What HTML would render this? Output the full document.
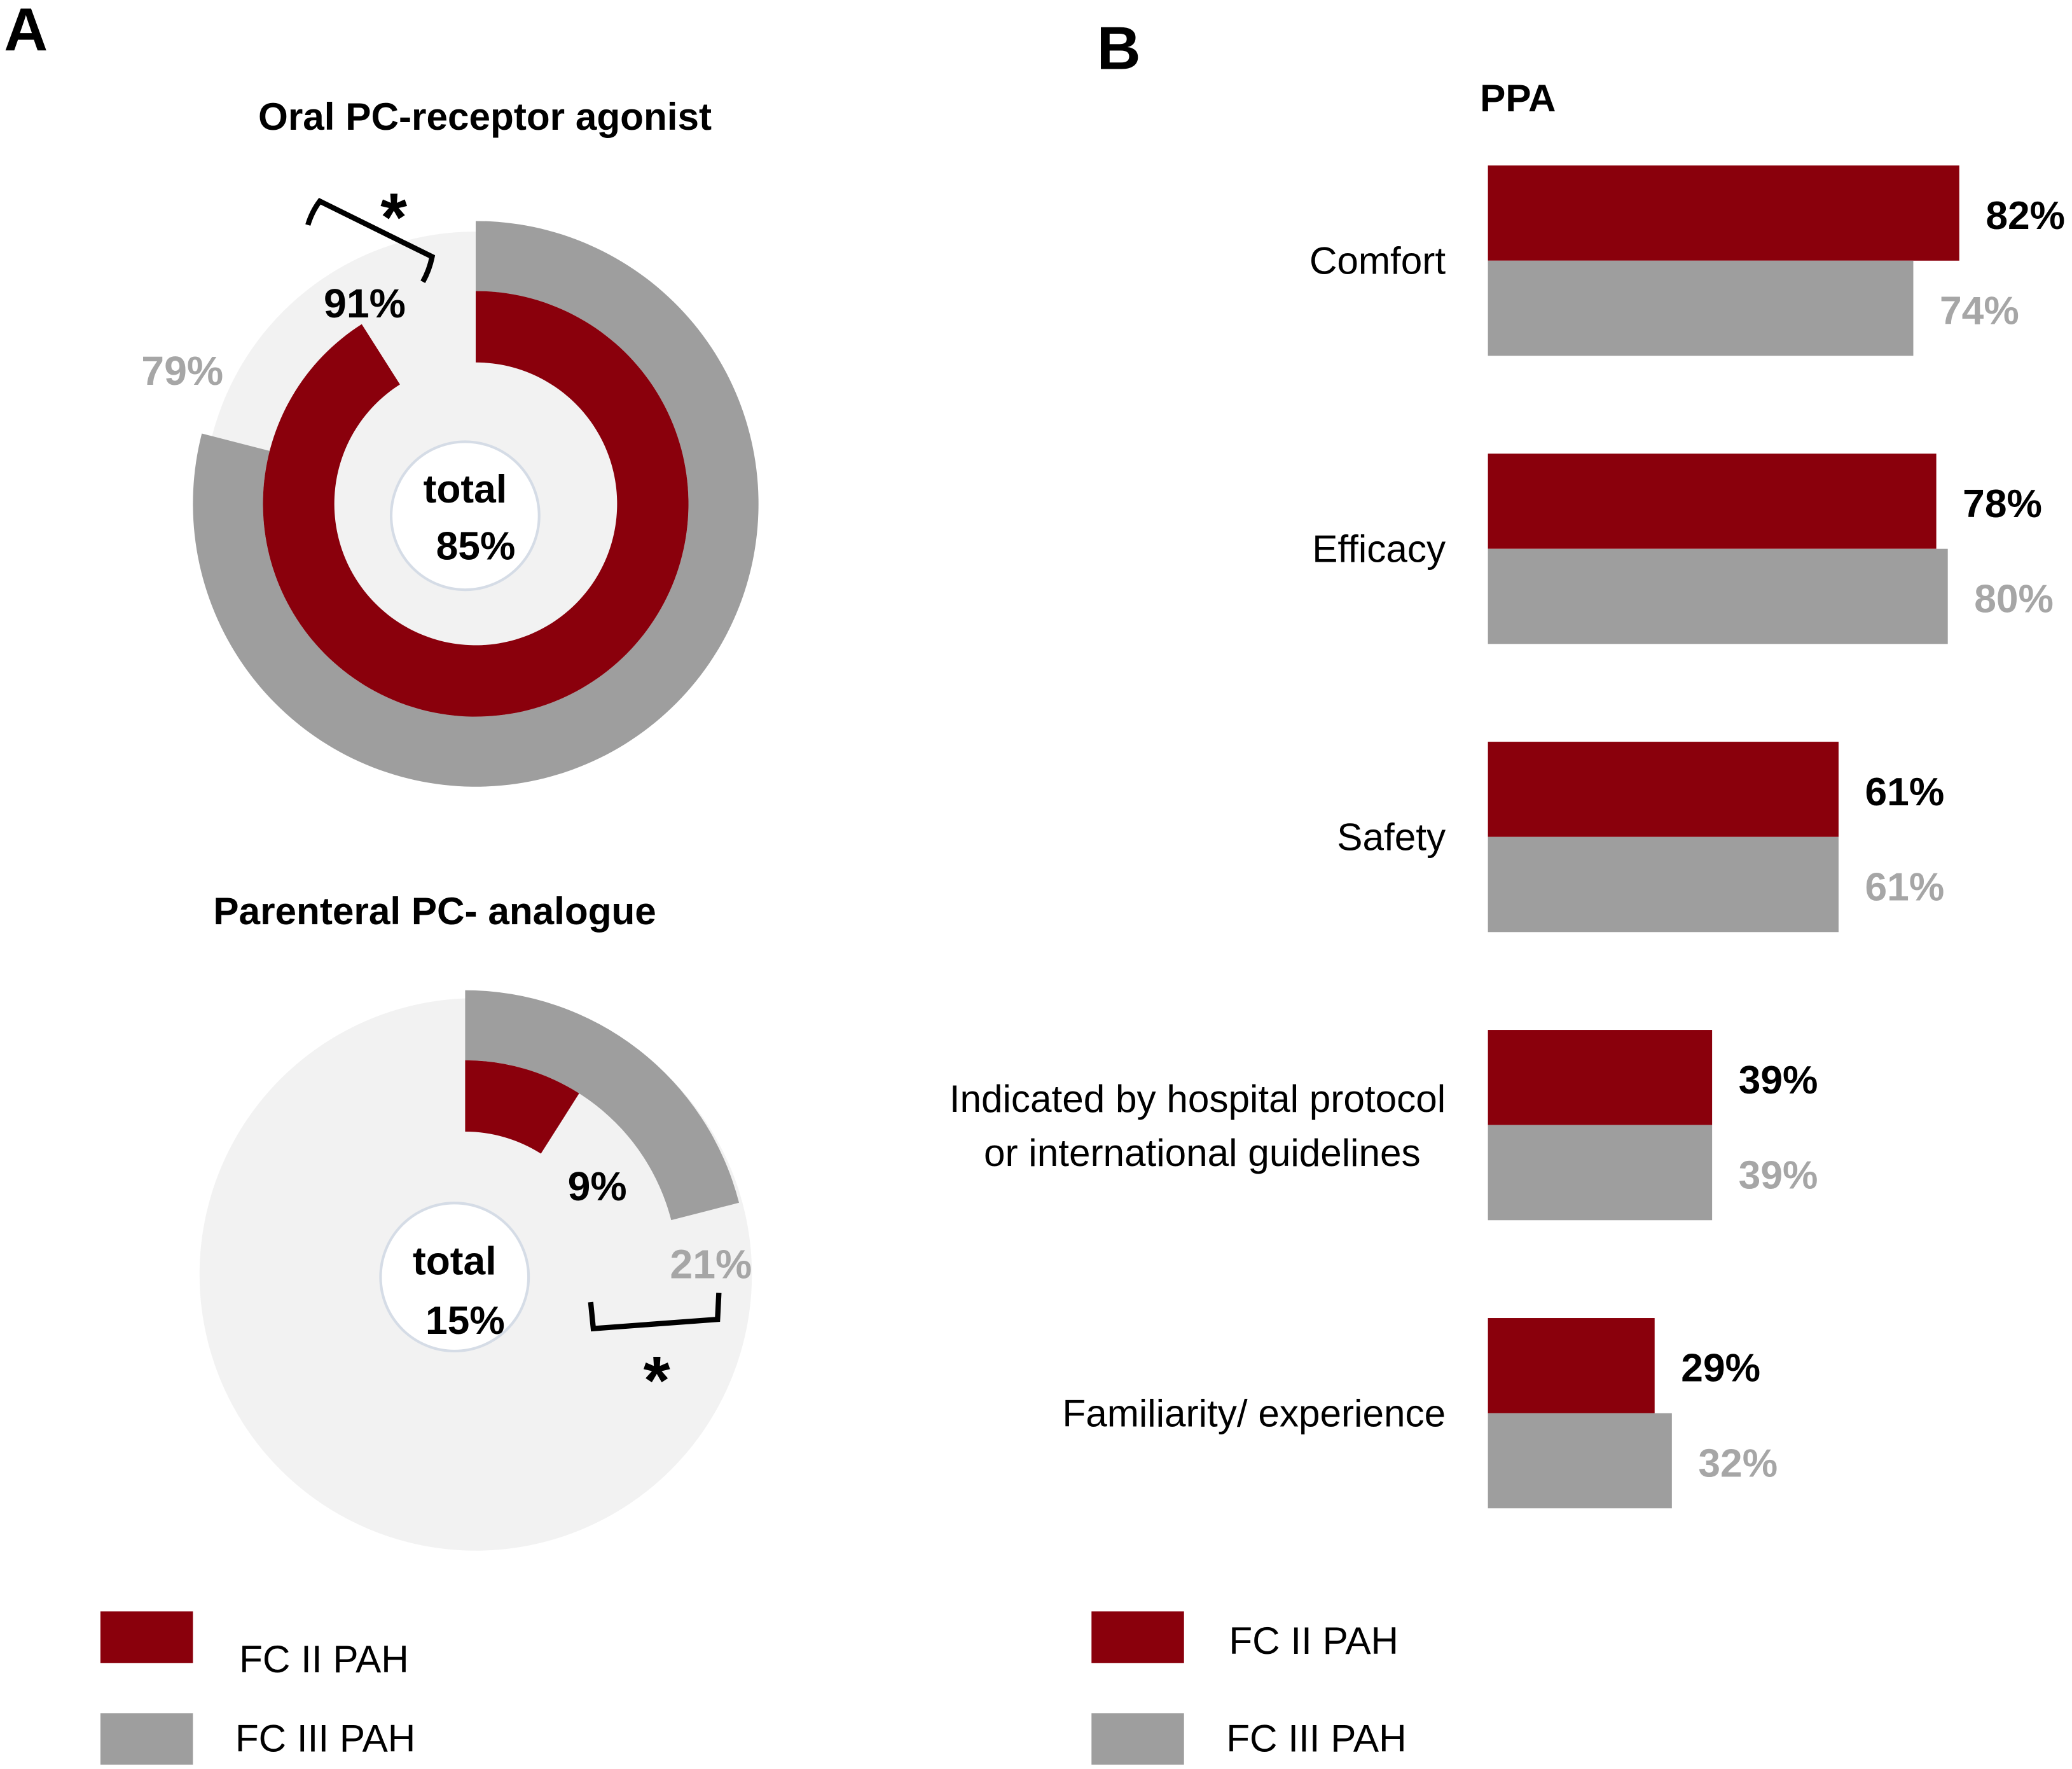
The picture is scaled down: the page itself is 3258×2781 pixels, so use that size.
<!DOCTYPE html>
<html><head><meta charset="utf-8"><style>
html,body{margin:0;padding:0;background:#fff;}
svg{display:block;font-family:"Liberation Sans",sans-serif;}
</style></head><body>
<svg id="fig" width="3258" height="2781" viewBox="0 0 1568 1338" xmlns="http://www.w3.org/2000/svg">
<g id="panelA"></g>
<g id="panelB"></g>
</svg>
<script>
// Panel A data
const donutTitles = ["Oral PC-receptor agonist", "Parenteral PC- analogue"];
const fc2Values = [91, 9];
const fc3Values = [79, 21];
const totalValues = [85, 15];
// Panel B data
const categories = ["Comfort", "Efficacy", "Safety", "Indicated by hospital protocol|or international guidelines", "Familiarity/ experience"];
const barFc2 = [82, 78, 61, 39, 29];
const barFc3 = [74, 80, 61, 39, 32];

const NS = "http://www.w3.org/2000/svg";
const RED = "#8a000c", GRAY = "#9e9e9e", LIGHT = "#f2f2f2", LBL = "#a6a6a6";
function mk(tag, attrs, parent, text) {
  const e = document.createElementNS(NS, tag);
  for (const k in attrs) e.setAttribute(k, attrs[k]);
  if (text !== undefined) e.textContent = text;
  parent.appendChild(e);
  return e;
}
function pt(cx, cy, r, a) { return [cx + r * Math.sin(a), cy - r * Math.cos(a)]; }
function arcPath(cx, cy, r0, r1, pct) {
  const a = Math.min(pct, 99.99) / 100 * 2 * Math.PI;
  const large = a > Math.PI ? 1 : 0;
  const p1 = pt(cx, cy, r1, 0), p2 = pt(cx, cy, r1, a), p3 = pt(cx, cy, r0, a), p4 = pt(cx, cy, r0, 0);
  return `M${p1} A${r1},${r1} 0 ${large} 1 ${p2} L${p3} A${r0},${r0} 0 ${large} 0 ${p4} Z`;
}
const A = document.getElementById('panelA');
const B = document.getElementById('panelB');

let t = mk('text', {x: 3, y: 38, 'font-size': 46, 'font-weight': 'bold'}, A, 'A');



const donuts = [
  {cx: 360, cy: 381, bgx: 360, bgy: 381, bg: 206, tx: 367, ty: 98, lab2: [276, 240], lab3: [138, 291], wc: [352, 390], tot: [352, 380, 360, 423]},
  {cx: 352, cy: 963, bgx: 360, bgy: 964, bg: 209, tx: 329, ty: 699, lab2: [452, 908], lab3: [538, 967], wc: [344, 966], tot: [344, 964, 352, 1009]}
];
donuts.forEach((d, i) => {
  const g = mk('g', {}, A);
  
  
  t = mk('text', {x: d.tx, y: d.ty, 'font-size': 29, 'font-weight': 'bold', 'text-anchor': 'middle'}, g, donutTitles[i]);
  
  
  let c = mk('circle', {cx: d.bgx, cy: d.bgy, r: d.bg, fill: LIGHT}, g);
  
  
  let p = mk('path', {d: arcPath(d.cx, d.cy, 161, 214, fc3Values[i]), fill: GRAY}, g);
  
  
  p = mk('path', {d: arcPath(d.cx, d.cy, 107, 161, fc2Values[i]), fill: RED}, g);
  
  
  c = mk('circle', {cx: d.wc[0], cy: d.wc[1], r: 56, fill: '#fff', stroke: '#d5dce6', 'stroke-width': 2}, g);
  
  
  t = mk('text', {x: d.tot[0], y: d.tot[1], 'font-size': 30, 'font-weight': 'bold', 'text-anchor': 'middle'}, g, 'total');
  
  
  t = mk('text', {x: d.tot[2], y: d.tot[3], 'font-size': 30, 'font-weight': 'bold', 'text-anchor': 'middle'}, g, totalValues[i] + '%');
  
  
  t = mk('text', {x: d.lab2[0], y: d.lab2[1], 'font-size': 31, 'font-weight': 'bold', 'text-anchor': 'middle'}, g, fc2Values[i] + '%');
  
  
  t = mk('text', {x: d.lab3[0], y: d.lab3[1], 'font-size': 31, 'font-weight': 'bold', 'text-anchor': 'middle', fill: LBL}, g, fc3Values[i] + '%');
  
  
});
// significance brackets
let br = mk('path', {d: 'M233,170 Q236,160 242,152 L327,194 Q325,204 320,213', fill: 'none', stroke: '#000', 'stroke-width': 4}, A);


t = mk('text', {x: 298, y: 182, 'font-size': 52, 'font-weight': 'bold', 'text-anchor': 'middle'}, A, '*');


br = mk('path', {d: 'M447,985 L449,1005 L543,998 L544,978', fill: 'none', stroke: '#000', 'stroke-width': 4}, A);


t = mk('text', {x: 497, y: 1062, 'font-size': 52, 'font-weight': 'bold', 'text-anchor': 'middle'}, A, '*');



// Panel B
t = mk('text', {x: 830, y: 52, 'font-size': 46, 'font-weight': 'bold'}, B, 'B');


t = mk('text', {x: 1120, y: 84, 'font-size': 29, 'font-weight': 'bold'}, B, 'PPA');


const x0 = 1126, pxPer = 4.35, top0 = 125, step = 218, bh = 72;
function xs(v) { return v * pxPer; }
categories.forEach((cat, i) => {
  const y = top0 + i * step;
  const g = mk('g', {}, B);
  
  
  let r = mk('rect', {x: x0, y: y, width: xs(barFc2[i]), height: bh, fill: RED}, g);
  
  
  r = mk('rect', {x: x0, y: y + bh, width: xs(barFc3[i]), height: bh, fill: GRAY}, g);
  
  
  t = mk('text', {x: x0 + xs(barFc2[i]) + 20, y: y + 48, 'font-size': 30, 'font-weight': 'bold'}, g, barFc2[i] + '%');
  
  
  t = mk('text', {x: x0 + xs(barFc3[i]) + 20, y: y + bh + 48, 'font-size': 30, 'font-weight': 'bold', fill: LBL}, g, barFc3[i] + '%');
  
  
  const lines = cat.split('|');
  if (lines.length === 1) {
    t = mk('text', {x: 1094, y: y + 82, 'font-size': 29, 'text-anchor': 'end'}, g, lines[0]);
  } else {
    t = mk('text', {x: 1094, y: y + 62, 'font-size': 29, 'text-anchor': 'end'}, g);
    mk('tspan', {x: 1094, dy: 0}, t, lines[0]);
    mk('tspan', {x: 1075, dy: 41}, t, lines[1]);
  }
  
  
});

// Legends
function legend(parent, rx, items, name) {
  const g = mk('g', {}, parent);
  
  
  items.forEach(it => {
    const r = mk('rect', {x: rx, y: it.y, width: 70, height: 39, fill: it.c}, g);
    
    
    const tt = mk('text', {x: it.tx, y: it.ty, 'font-size': 29}, g, it.label);
    
    
  });
}
legend(A, 76, [{y: 1219, c: RED, tx: 181, ty: 1265, label: 'FC II PAH'}, {y: 1296, c: GRAY, tx: 178, ty: 1325, label: 'FC III PAH'}], 'legend-a');
legend(B, 826, [{y: 1219, c: RED, tx: 930, ty: 1251, label: 'FC II PAH'}, {y: 1296, c: GRAY, tx: 928, ty: 1325, label: 'FC III PAH'}], 'legend-b');
</script>
</body></html>
